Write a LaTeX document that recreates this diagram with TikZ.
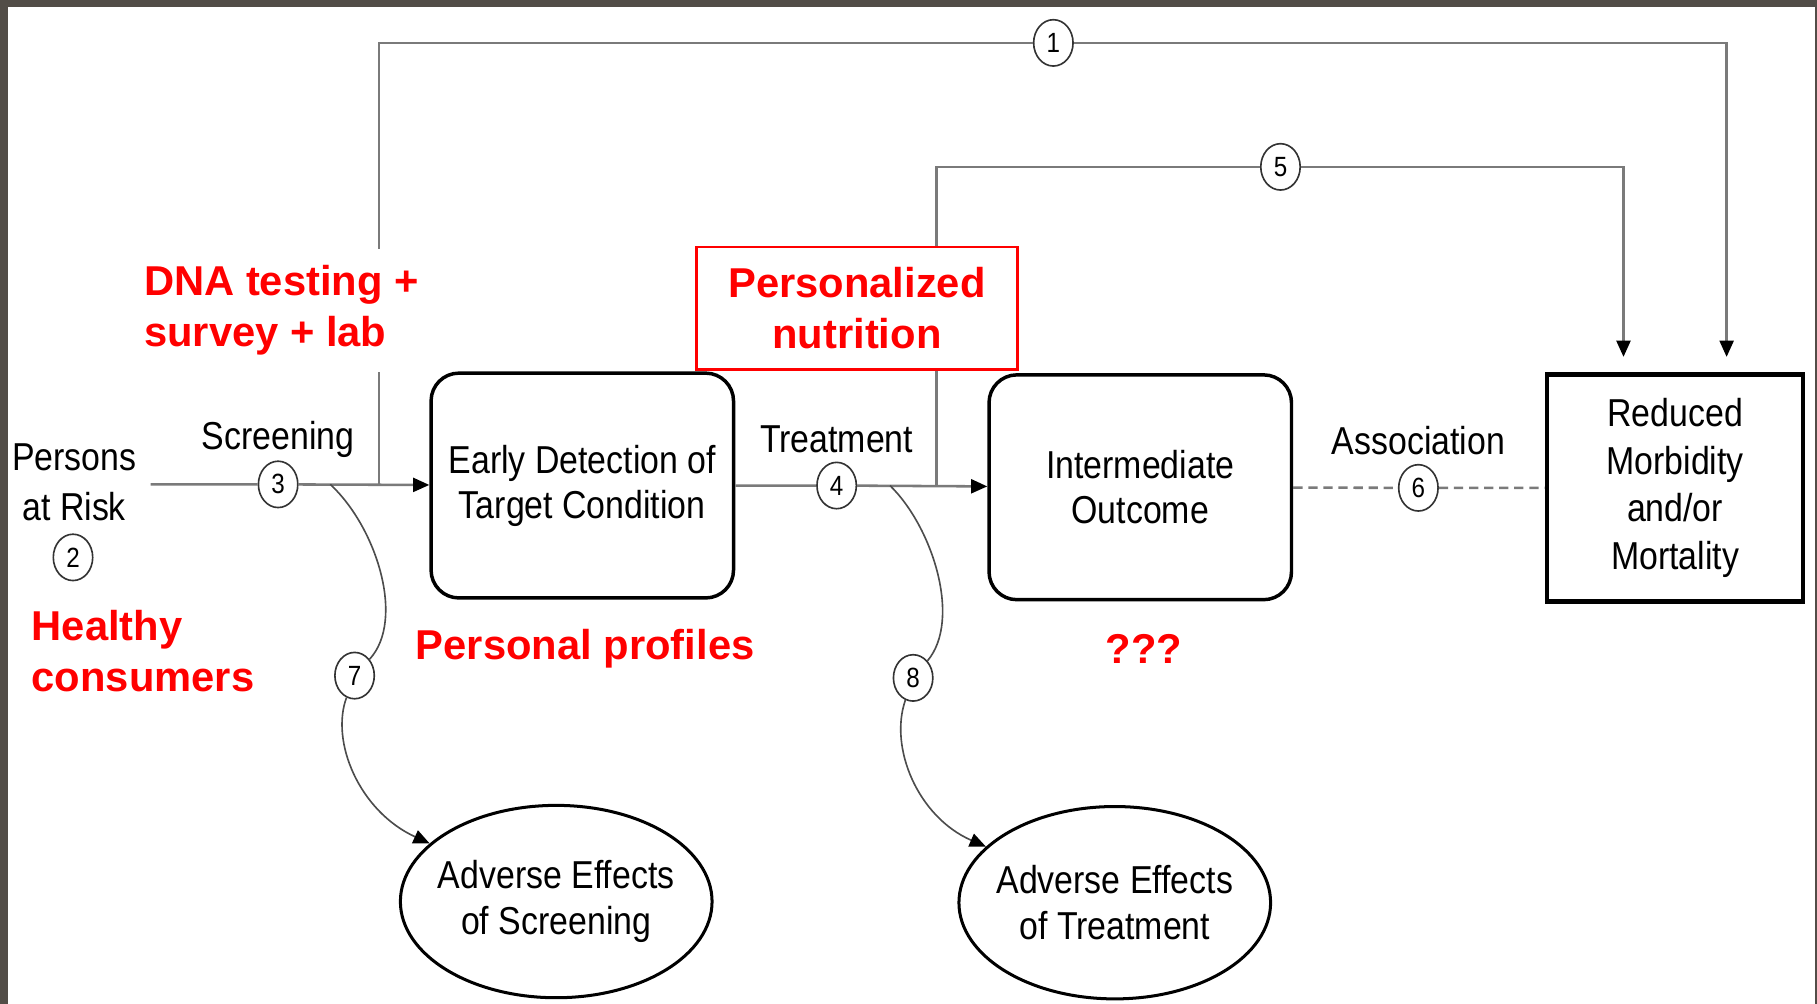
\documentclass[tikz,border=0pt]{standalone}
\usepackage{fontspec}
\setmainfont{Liberation Sans}
\newfontfamily\narrowfont[FakeStretch=0.87]{Liberation Sans}
\usetikzlibrary{shapes.geometric}
\usetikzlibrary{arrows.meta}
\definecolor{framegray}{HTML}{524D47}
\definecolor{linegray}{HTML}{7A7A7A}
\tikzstyle{stage}=[draw, line width=1.5pt, rounded corners=12pt, minimum width=130.5pt, minimum height=97pt, inner sep=0pt, align=center, font=\narrowfont\fontsize{16.8}{19.5}\selectfont]
\tikzstyle{outcome}=[draw, line width=2pt, minimum width=110.5pt, minimum height=98pt, inner sep=0pt, align=center, font=\narrowfont\fontsize{16.8}{20.5}\selectfont]
\tikzstyle{harm}=[draw, ellipse, line width=1.3pt, minimum width=133pt, minimum height=83pt, inner xsep=-3.5pt, inner ysep=0pt, align=center, font=\narrowfont\fontsize{16.8}{20}\selectfont]
\tikzstyle{flowtext}=[inner sep=0pt, align=center, font=\narrowfont\fontsize{16.8}{21.5}\selectfont]
\tikzstyle{marker}=[draw=black!80, ellipse, fill=white, line width=0.7pt, minimum width=17pt, minimum height=20pt, inner sep=0pt, font=\narrowfont\fontsize{12}{12}\selectfont]
\tikzstyle{link}=[draw=linegray, line width=1.1pt]
\tikzstyle{branch}=[draw=black!70, line width=0.7pt]
\tikzstyle{redtext}=[text=red, fill=white, inner sep=2pt, font=\bfseries\fontsize{18}{22}\selectfont]
\tikzstyle{tip}=[-{Triangle[length=7pt,width=6pt,color=black]}]

\begin{document}
\begin{tikzpicture}[x=0.5pt, y=-0.5pt]
  % page and frame
  \fill[white] (0,0) rectangle (1568,866);
  \fill[framegray] (0,0) rectangle (1568,6);
  \fill[framegray] (0,0) rectangle (7,866);
  \fill[framegray] (1566.5,0) rectangle (1568,866);
  \useasboundingbox (0,0) rectangle (1568,866);

  % boxes
  \node[stage] (detect) at (502.5,419) {Early Detection of\\Target Condition};
  \node[stage] (inter) at (984,420.5) {Intermediate\\Outcome};
  \node[outcome] (reduced) at (1445.5,421) {Reduced\\Morbidity\\and/or\\Mortality};
  \node[harm] (screenharm) at (480,778) {Adverse Effects\\of Screening};
  \node[harm] (treatharm) at (962,779) {Adverse Effects\\of Treatment};

  % labels
  \node[flowtext] (persons) at (64,416) {Persons\\at Risk};
  \node[flowtext] (screening) at (240,379) {Screening};
  \node[flowtext] (treatment) at (722,379) {Treatment};
  \node[flowtext] (association) at (1224,380) {Association};

  % numbered links
  \node[marker] (m1) at (909,37) {1};
  \node[marker] (m2) at (63,481) {2};
  \node[marker] (m3) at (240,418) {3};
  \node[marker] (m4) at (722,419) {4};
  \node[marker] (m5) at (1105,144) {5};
  \node[marker] (m6) at (1224,421) {6};
  \node[marker] (m7) at (306,583) {7};
  \node[marker] (m8) at (788,585) {8};

  \coordinate (start) at (130,418);
  \coordinate (fork1) at (327,418);
  \coordinate (fork7) at (285,418);
  \coordinate (fork5) at (808,419);
  \coordinate (fork8) at (768,419);

  \draw[link, tip] (start) -- (m3) -- (detect);
  \draw[link, tip] (detect) -- (m4) -- (inter);
  \draw[link, dash pattern=on 4pt off 2.5pt] (inter) -- (m6) -- (reduced);
  \draw[link, tip, shorten >=6.5pt] (fork1) |- (m1) -| ([xshift=22.25pt]reduced.north);
  \draw[link, tip, shorten >=6.5pt] (fork5) |- (m5) -| ([xshift=-22.25pt]reduced.north);

  \draw[branch] (fork7) .. controls (325,455) and (350,535) .. (m7);
  \draw[branch, tip] (m7) .. controls (285,640) and (310,700) .. (screenharm);
  \draw[branch] (fork8) .. controls (805,455) and (830,535) .. (m8);
  \draw[branch, tip] (m8) .. controls (767,645) and (792,705) .. (treatharm);

  % added notes
  \node[redtext, anchor=west, align=left, minimum height=53pt] (dna) at (120,268) {DNA testing +\\survey + lab};
  \node[redtext, draw=red, line width=1pt, minimum width=138.5pt, minimum height=53pt, align=center] (nutrition) at (739.5,266) {Personalized\\nutrition};
  \node[redtext, anchor=west, align=left] (healthy) at (23,562) {Healthy\\consumers};
  \node[redtext] (profiles) at (505,560) {Personal profiles};
  \node[redtext] (unknown) at (987,560) {???};
\end{tikzpicture}
\end{document}
